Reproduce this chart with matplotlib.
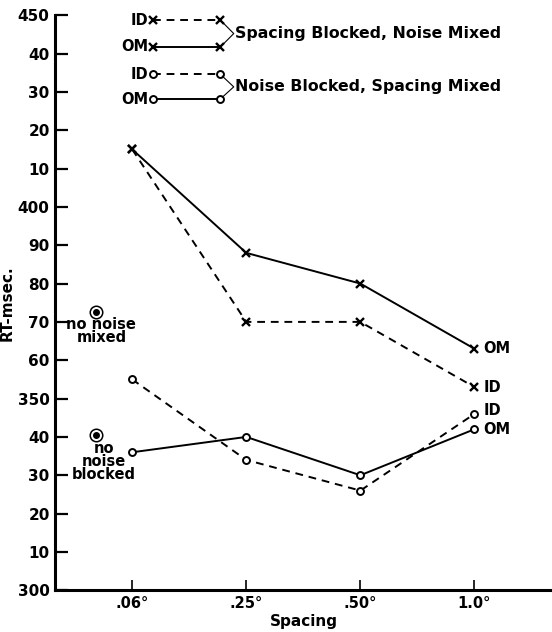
import matplotlib.pyplot as plt
import numpy as np

plt.rcParams['font.family'] = ['DejaVu Sans']
plt.rcParams['font.weight'] = 'bold'
plt.rcParams['axes.labelweight'] = 'bold'

# data (RT in msec)
spacing = [".06°", ".25°", ".50°", "1.0°"]
sbnm_om = [415, 388, 380, 363]   # spacing blocked, noise mixed, OM
sbnm_id = [415, 370, 370, 353]   # spacing blocked, noise mixed, ID
nbsm_om = [336, 340, 330, 342]   # noise blocked, spacing mixed, OM
nbsm_id = [355, 334, 326, 346]   # noise blocked, spacing mixed, ID
no_noise_mixed = 372.5
no_noise_blocked = 340.5

yticks = np.arange(300, 451, 10)
ylabels = ["300", "10", "20", "30", "40", "350", "60", "70", "80", "90",
           "400", "10", "20", "30", "40", "450"]

fig = plt.figure(figsize=(5.52, 6.32), dpi=100)
ax = fig.add_axes([0.1, 0.066, 0.9, 0.91])

x = np.arange(len(spacing))
lw = 1.4
dash = (0, (4, 3))
ax.plot(x, sbnm_om, color='black', lw=lw, marker='x', ms=5.5, mew=1.7)
ax.plot(x, sbnm_id, color='black', lw=lw, ls=dash, marker='x', ms=5.5, mew=1.7)
ax.plot(x, nbsm_om, color='black', lw=lw, marker='o', ms=5, mfc='white', mew=1.4)
ax.plot(x, nbsm_id, color='black', lw=lw, ls=dash, marker='o', ms=5, mfc='white', mew=1.4)

# end labels
fs = 10.5
ax.text(3.08, sbnm_om[-1], "OM", va='center', fontsize=fs)
ax.text(3.08, sbnm_id[-1], "ID", va='center', fontsize=fs)
ax.text(3.08, nbsm_id[-1] + 0.8, "ID", va='center', fontsize=fs)
ax.text(3.08, nbsm_om[-1], "OM", va='center', fontsize=fs)

# no-noise points
for yv, lab, xt, dy in [(no_noise_mixed, "no noise\nmixed", -0.27, -1.3),
                        (no_noise_blocked, "no\nnoise\nblocked", -0.25, -1.6)]:
    ax.plot(-0.32, yv, marker='o', ms=9, mfc='white', mec='black', mew=1.1, clip_on=False)
    ax.plot(-0.32, yv, marker='o', ms=4, color='black', clip_on=False)
    ax.text(xt, yv + dy, lab, ha='center', va='top', fontsize=fs, linespacing=0.82)

# key at the top
key = [(448.7, 'x', dash, "ID"), (441.7, 'x', '-', "OM"),
       (434.6, 'o', dash, "ID"), (428.1, 'o', '-', "OM")]
for yv, m, ls, lab in key:
    kw = dict(ms=5.5, mew=1.7) if m == 'x' else dict(ms=5, mfc='white', mew=1.4)
    ax.plot([0.18, 0.77], [yv, yv], color='black', lw=lw, ls=ls, marker=m,
            clip_on=False, **kw)
    ax.text(0.14, yv, lab, ha='right', va='center', fontsize=fs)
for (y1, y2, ym, txt) in [(448.7, 441.7, 445.2, "Spacing Blocked, Noise Mixed"),
                          (434.6, 428.1, 431.3, "Noise Blocked, Spacing Mixed")]:
    ax.plot([0.79, 0.89, 0.79], [y1 - 0.5, ym, y2 + 0.5], color='black', lw=0.8)
    ax.text(0.9, ym, txt, va='center', fontsize=11.3)

ax.set_xlim(-0.675, 3.68)
ax.set_ylim(300, 450)
ax.set_xticks(x)
ax.set_xticklabels(spacing, fontsize=10.5)
ax.set_yticks(yticks)
ax.set_yticklabels(ylabels, fontsize=11)
ax.tick_params(axis='y', direction='in', length=9, width=1.6, pad=4)
ax.tick_params(axis='x', direction='in', length=7, width=1.2, pad=4)
for s in ['top', 'right']:
    ax.spines[s].set_visible(False)
ax.spines['left'].set_linewidth(2.2)
ax.spines['bottom'].set_linewidth(2.2)
ax.set_xlabel("Spacing", fontsize=11, labelpad=2)
ax.set_ylabel("RT-msec.", fontsize=11, labelpad=2)

fig.savefig("out.png", dpi=100)
